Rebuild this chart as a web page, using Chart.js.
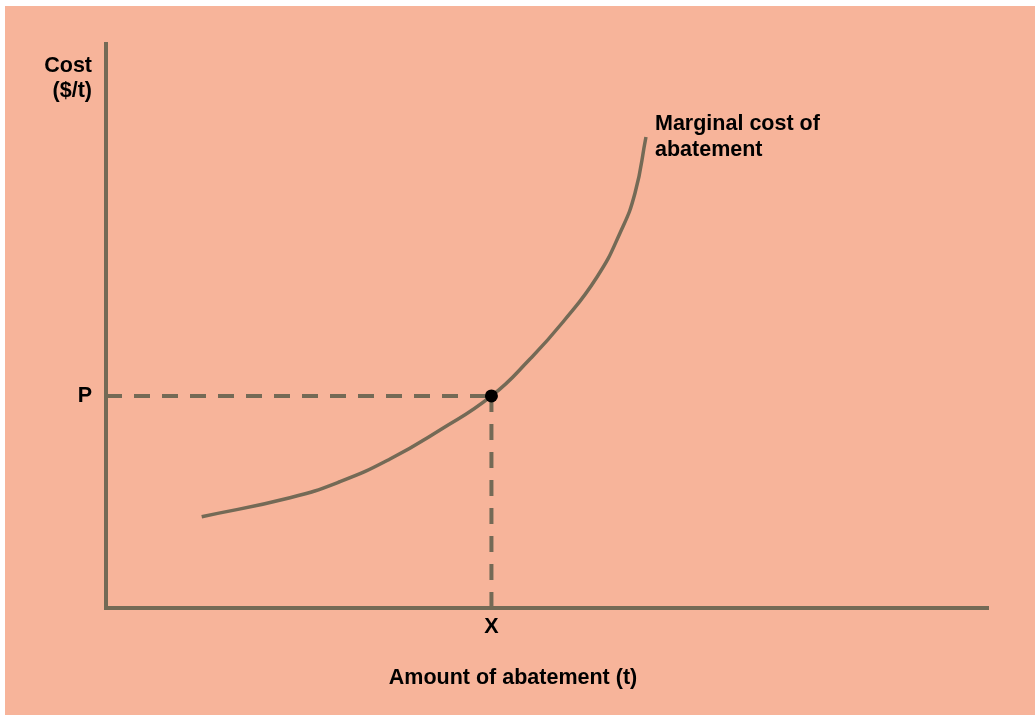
<!DOCTYPE html>
<html>
<head>
<meta charset="utf-8">
<script src="https://cdn.jsdelivr.net/npm/chart.js@4/dist/chart.umd.min.js"></script>
<style>
  html, body { margin: 0; padding: 0; background: #ffffff; }
  canvas { display: block; }
</style>
</head>
<body>
<canvas id="c" width="1035" height="715"></canvas>
<script>
// ---- data (x: amount of abatement, y: cost, arbitrary units 0..100) ----
const curveX = [10.85, 20.86, 26.53, 32.20, 37.87, 43.71, 48.07, 51.81, 55.67, 58.28, 59.98, 61.22];
const curveY = [16.19, 19.55, 22.40, 26.42, 31.56, 37.59, 44.15, 50.71, 58.69, 66.49, 73.58, 83.51];
const pointX = 43.7;   // X
const pointP = 37.6;   // P
const axisMax = [100, 100];
const yTitleLines = ["Cost", "($/t)"];
const xTitle = "Amount of abatement (t)";
const curveLabelLines = ["Marginal cost of", "abatement"];
const tickLabelX = "X";
const tickLabelP = "P";

const lineColor = "#746a56";
const bgColor = "#f7b49a";
const font = "bold 21.5px 'Liberation Sans', Arial, sans-serif";

const bgPlugin = {
  id: "bg",
  beforeDraw(chart) {
    const ctx = chart.ctx;
    ctx.save();
    ctx.fillStyle = "#ffffff";
    ctx.fillRect(0, 0, chart.width, chart.height);
    ctx.fillStyle = bgColor;
    ctx.fillRect(5, 6, chart.width - 5, chart.height - 6);
    ctx.restore();
  }
};

const textPlugin = {
  id: "texts",
  afterDraw(chart) {
    const ctx = chart.ctx;
    const xs = chart.scales.x, ys = chart.scales.y;
    const ca = chart.chartArea;
    ctx.save();
    ctx.fillStyle = "#000000";
    ctx.font = font;
    ctx.textBaseline = "middle";
    // y title
    ctx.textAlign = "right";
    ctx.fillText(yTitleLines[0], ca.left - 14, 66);
    ctx.fillText(yTitleLines[1], ca.left - 14, 91);
    // P label
    ctx.textAlign = "center";
    ctx.fillText(tickLabelP, ca.left - 21, ys.getPixelForValue(pointP));
    // X label
    ctx.fillText(tickLabelX, xs.getPixelForValue(pointX), ca.bottom + 19);
    // x title
    ctx.fillText(xTitle, 513, ca.bottom + 70);
    // curve label
    ctx.textAlign = "left";
    ctx.fillText(curveLabelLines[0], 655, 124);
    ctx.fillText(curveLabelLines[1], 655, 150);
    ctx.restore();
  }
};

const curveData = curveX.map((x, i) => ({ x: x, y: curveY[i] }));

new Chart(document.getElementById("c"), {
  type: "line",
  data: {
    datasets: [
      {
        label: "point",
        data: [{ x: pointX, y: pointP }],
        showLine: false,
        pointRadius: 6.5,
        pointBackgroundColor: "#000000",
        pointBorderWidth: 0,
        order: 0
      },
      {
        label: "curve",
        data: curveData,
        borderColor: lineColor,
        borderWidth: 3.5,
        pointRadius: 0,
        tension: 0.5,
        fill: false,
        order: 1
      },
      {
        label: "hdash",
        data: [{ x: 0, y: pointP }, { x: pointX, y: pointP }],
        borderColor: lineColor,
        borderWidth: 4,
        borderDash: [16, 12],
        pointRadius: 0,
        tension: 0,
        order: 2
      },
      {
        label: "vdash",
        data: [{ x: pointX, y: 0 }, { x: pointX, y: pointP }],
        borderColor: lineColor,
        borderWidth: 4,
        borderDash: [16, 12],
        pointRadius: 0,
        tension: 0,
        order: 2
      }
    ]
  },
  options: {
    responsive: false,
    animation: false,
    layout: { padding: { left: 106, right: 47, top: 44, bottom: 107 } },
    plugins: { legend: { display: false }, tooltip: { enabled: false } },
    scales: {
      x: {
        type: "linear",
        min: 0, max: axisMax[0],
        ticks: { display: false },
        grid: { display: false, drawTicks: false },
        border: { display: true, color: lineColor, width: 4 },
        afterFit(s) { s.height = 0; }
      },
      y: {
        type: "linear",
        min: 0, max: axisMax[1],
        ticks: { display: false },
        grid: { display: false, drawTicks: false },
        border: { display: true, color: lineColor, width: 4 },
        afterFit(s) { s.width = 0; }
      }
    }
  },
  plugins: [bgPlugin, textPlugin]
});
</script>
</body>
</html>
